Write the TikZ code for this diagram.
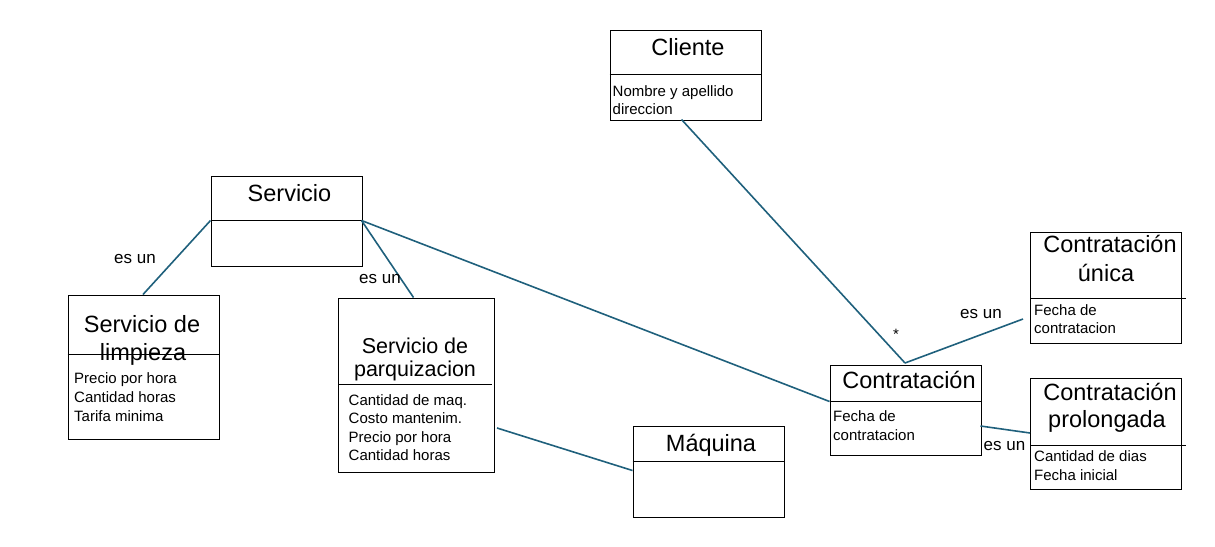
\documentclass[tikz,border=0pt]{standalone}
\usepackage{fontspec}
\setmainfont{Liberation Sans}
\definecolor{conncol}{RGB}{31,96,124}
\begin{document}
\begin{tikzpicture}[x=1pt,y=-1pt,
  box/.style={draw=black, line width=0.9pt, inner sep=0pt, anchor=north west},
  divider/.style={draw=black, line width=0.9pt},
  conn/.style={draw=conncol, line width=1.6pt},
  ttl/.style={font=\fontsize{23.5}{28}\selectfont, anchor=base, inner sep=0pt},
  ttlsm/.style={font=\fontsize{21.5}{26}\selectfont, anchor=base, inner sep=0pt},
  attr/.style={font=\fontsize{15}{19}\selectfont, anchor=base west, inner sep=0pt},
  lbl/.style={font=\fontsize{17}{20}\selectfont, anchor=base, inner sep=0pt}]
\useasboundingbox (0,0) rectangle (1215,546);

% ---- boxes ----
\node[box, minimum width=151, minimum height=90] (cliente) at (609.5,29.5) {};
\draw[divider] (609.5,74) -- (760.5,74);
\node[ttl] (clienteT) at (688,55) {Cliente};
\node[attr] (clienteA1) at (612.5,96) {Nombre y apellido};
\node[attr] (clienteA2) at (612.5,114) {direccion};

\node[box, minimum width=151, minimum height=90] (servicio) at (210.5,175.5) {};
\draw[divider] (210.5,220.5) -- (361.5,220.5);
\node[ttl] (servicioT) at (289.5,201) {Servicio};

\node[box, minimum width=151, minimum height=144] (limpieza) at (67.5,294.5) {};
\node[ttl] (limpiezaT1) at (142,332) {Servicio de};
\node[ttl] (limpiezaT2) at (143,360) {limpieza};
\draw[divider] (67.5,354) -- (220,354);
\node[attr] (limpiezaA1) at (74,383) {Precio por hora};
\node[attr] (limpiezaA2) at (74,402) {Cantidad horas};
\node[attr] (limpiezaA3) at (74,421.5) {Tarifa minima};

\node[box, minimum width=156, minimum height=174.5] (parq) at (337.5,297.5) {};
\node[ttlsm] (parqT1) at (415,353) {Servicio de};
\node[ttlsm] (parqT2) at (415,376) {parquizacion};
\draw[divider] (339,384.5) -- (492,384.5);
\node[attr] (parqA1) at (348.5,405) {Cantidad de maq.};
\node[attr] (parqA2) at (348.5,423.5) {Costo mantenim.};
\node[attr] (parqA3) at (348.5,442) {Precio por hora};
\node[attr] (parqA4) at (348.5,460.5) {Cantidad horas};

\node[box, minimum width=151, minimum height=90.5] (maquina) at (632.5,426.2) {};
\draw[divider] (632.5,461.5) -- (783.5,461.5);
\node[ttl] (maquinaT) at (711,451.5) {Máquina};

\node[box, minimum width=151, minimum height=90] (contr) at (829.5,364.5) {};
\draw[divider] (829.5,401.5) -- (980.5,401.5);
\node[ttl] (contrT) at (909,388) {Contratación};
\node[attr] (contrA1) at (833,421.5) {Fecha de};
\node[attr] (contrA2) at (833,440.5) {contratacion};

\node[box, minimum width=151, minimum height=111.5] (unica) at (1030,231.8) {};
\node[ttl] (unicaT1) at (1110,252.5) {Contratación};
\node[ttl] (unicaT2) at (1106,281.5) {única};
\draw[divider] (1030,298.3) -- (1185.5,298.3);
\node[attr] (unicaA1) at (1034,315) {Fecha de};
\node[attr] (unicaA2) at (1034,333.5) {contratacion};

\node[box, minimum width=151, minimum height=111.5] (prol) at (1030,377.8) {};
\node[ttl] (prolT1) at (1110,400) {Contratación};
\node[ttl] (prolT2) at (1107,427) {prolongada};
\draw[divider] (1030,445.3) -- (1186,445.3);
\node[attr] (prolA1) at (1034,461.5) {Cantidad de dias};
\node[attr] (prolA2) at (1034,480.5) {Fecha inicial};

% ---- connector end points ----
\coordinate (servL) at (210.5,220.5);
\coordinate (servR) at (361.5,220.5);
\coordinate (limpT) at (143,294.5);
\coordinate (parqTop) at (413.5,297.5);
\coordinate (contrL) at (829.5,401.5);
\coordinate (contrTop) at (905,363);
\coordinate (cliB) at (681.5,119.5);
\coordinate (unicaE) at (1023,319);
\coordinate (contrR) at (980.5,426);
\coordinate (prolL) at (1030,433);
\coordinate (parqR) at (497,428);
\coordinate (maqL) at (632.5,470.5);

% ---- connectors ----
\draw[conn] (servL) -- (limpT);
\draw[conn] (servR) -- (parqTop);
\draw[conn] (servR) -- (contrL);
\draw[conn] (cliB) -- (contrTop);
\draw[conn] (contrTop) -- (unicaE);
\draw[conn] (contrR) -- (prolL);
\draw[conn] (parqR) -- (maqL);

% ---- labels ----
\node[lbl] (l1) at (135,263) {es un};
\node[lbl] (l2) at (380,283) {es un};
\node[lbl] (l3) at (981,318.5) {es un};
\node[lbl] (l4) at (1004.5,450) {es un};
\node[font=\fontsize{15}{18}\selectfont, inner sep=0pt] (star) at (896,334) {*};
\end{tikzpicture}
\end{document}
